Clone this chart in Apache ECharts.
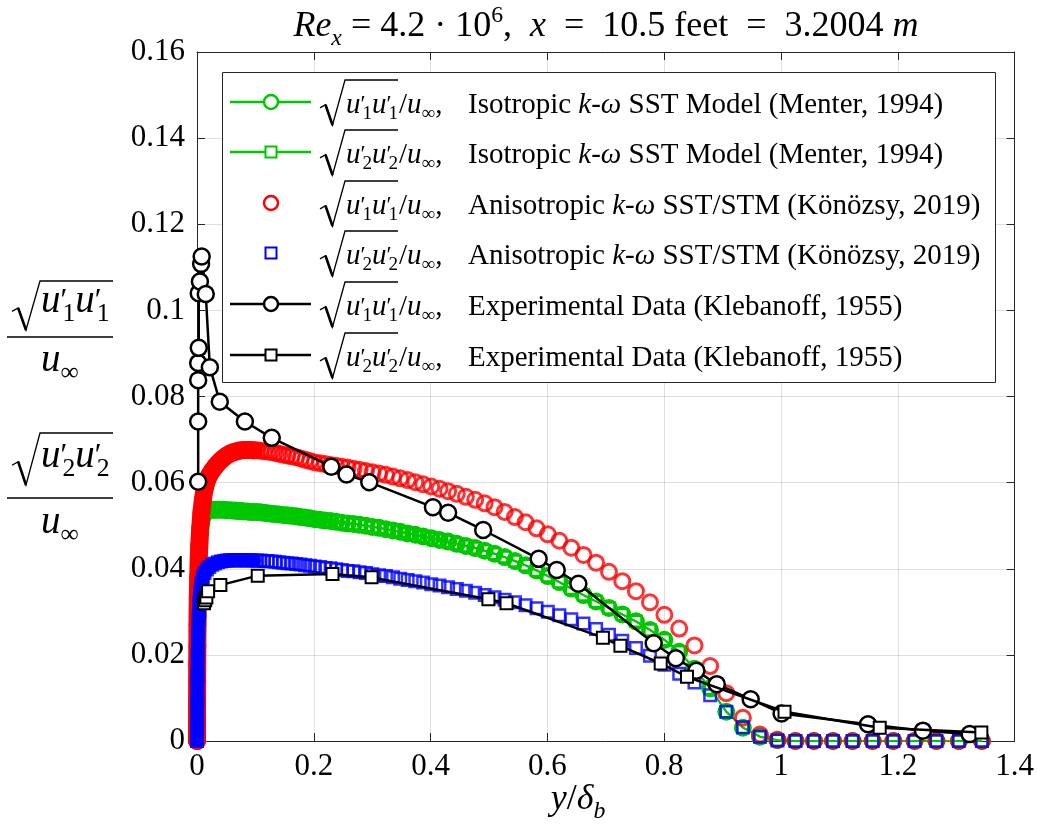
<!DOCTYPE html>
<html>
<head>
<meta charset="utf-8">
<script src="https://cdn.jsdelivr.net/npm/echarts@6/dist/echarts.min.js"></script>
<style>
  html, body { margin: 0; padding: 0; background: #ffffff; }
  #chart { width: 1037px; height: 838px; }
</style>
</head>
<body>
<div id="chart"></div>
<script>
// Wall-normal positions of the computational nodes, y/delta_b
const meshY = [0, 0.0001, 0.0004, 0.0008, 0.0013, 0.002, 0.003, 0.004, 0.0055, 0.0075, 0.01, 0.013, 0.017, 0.021, 0.026, 0.031, 0.036, 0.041, 0.046, 0.051, 0.056, 0.061, 0.066, 0.071, 0.076, 0.081, 0.0862, 0.0916, 0.0972,
  0.1029, 0.1088, 0.1148, 0.121, 0.1274, 0.134, 0.1408, 0.1477, 0.1548, 0.1621, 0.1697, 0.1774, 0.1854, 0.1936, 0.202, 0.2107, 0.2196, 0.2288, 0.2382, 0.2479, 0.2578, 0.268, 0.2785, 0.2893, 0.3004, 0.3118, 0.3235, 0.3356, 0.348, 0.3607, 0.3738, 0.3873, 0.4011, 0.4153, 0.4299, 0.4449, 0.4604, 0.4763, 0.4926, 0.5094, 0.5267, 0.5444, 0.5626, 0.5814, 0.6007, 0.6205, 0.6409, 0.6618, 0.6833, 0.7054, 0.7282, 0.7516, 0.7756, 0.8003, 0.8257, 0.8518, 0.8787, 0.9063, 0.9347, 0.9639, 0.9939, 1.0247, 1.0564, 1.089, 1.1225, 1.1569, 1.1923, 1.2287, 1.2661, 1.3045, 1.344];
// Number of near-wall nodes drawn as a continuous band
const nearWallCount = 29;

// Isotropic k-omega SST: both normal components are sqrt(2k/3)/u_inf, so one array serves both series
const isoRms = [0, 0.005, 0.014, 0.022, 0.029, 0.035, 0.041, 0.045, 0.0485, 0.0508, 0.0522, 0.053, 0.0534, 0.0536, 0.0537, 0.0537, 0.0537, 0.0537, 0.0537, 0.0536, 0.0536, 0.0535, 0.0535, 0.0534, 0.0534, 0.0533, 0.0533, 0.0532, 0.0532,
  0.0532, 0.0531, 0.053, 0.0529, 0.0528, 0.0527, 0.0526, 0.0525, 0.0524, 0.0523, 0.0522, 0.052, 0.0519, 0.0517, 0.0515, 0.0514, 0.0512, 0.0511, 0.0509, 0.0507, 0.0505, 0.0504, 0.0502, 0.05, 0.0497, 0.0495, 0.0492, 0.0489, 0.0486, 0.0482, 0.0479, 0.0475, 0.0471, 0.0467, 0.0463, 0.0458, 0.0453, 0.0448, 0.0442, 0.0435, 0.0427, 0.0418, 0.0408, 0.0396, 0.0383, 0.0369, 0.0354, 0.0339, 0.0324, 0.0309, 0.0294, 0.0278, 0.0258, 0.0235, 0.0207, 0.0168, 0.0122, 0.0068, 0.0031, 0.001, 0.0002, 0, 0, 0, 0, 0, 0, 0, 0, 0, 0];

// Anisotropic SST/STM, streamwise component
const anisoU1 = [0, 0.007, 0.018, 0.027, 0.033, 0.038, 0.0425, 0.0458, 0.0495, 0.053, 0.056, 0.0585, 0.0605, 0.0617, 0.0628, 0.0637, 0.0645, 0.0652, 0.0658, 0.0663, 0.0667, 0.067, 0.0672, 0.0674, 0.0675, 0.0676, 0.0676, 0.0676, 0.0675,
  0.0675, 0.0674, 0.0673, 0.0672, 0.0671, 0.0669, 0.0667, 0.0665, 0.0663, 0.0661, 0.0659, 0.0656, 0.0653, 0.065, 0.0647, 0.0645, 0.0643, 0.0641, 0.0639, 0.0637, 0.0635, 0.0632, 0.063, 0.0627, 0.0624, 0.0621, 0.0618, 0.0614, 0.061, 0.0606, 0.0601, 0.0596, 0.0591, 0.0586, 0.058, 0.0574, 0.0567, 0.056, 0.0552, 0.0543, 0.0532, 0.052, 0.0508, 0.0494, 0.048, 0.0465, 0.0449, 0.0432, 0.0414, 0.0393, 0.0371, 0.0348, 0.0322, 0.0293, 0.0261, 0.0222, 0.0174, 0.0111, 0.0054, 0.0015, 0.0003, 0, 0, 0, 0, 0, 0, 0, 0, 0, 0];

// Anisotropic SST/STM, wall-normal component
const anisoU2 = [0, 0.003, 0.009, 0.015, 0.02, 0.025, 0.029, 0.032, 0.0345, 0.0365, 0.038, 0.039, 0.0398, 0.0404, 0.0409, 0.0412, 0.0415, 0.0417, 0.0418, 0.0419, 0.042, 0.042, 0.042, 0.042, 0.042, 0.042, 0.042, 0.042, 0.0419,
  0.0419, 0.0419, 0.0418, 0.0418, 0.0417, 0.0416, 0.0415, 0.0414, 0.0413, 0.0412, 0.0411, 0.041, 0.0408, 0.0407, 0.0405, 0.0404, 0.0402, 0.0401, 0.0399, 0.0397, 0.0395, 0.0394, 0.0392, 0.039, 0.0387, 0.0385, 0.0383, 0.038, 0.0377, 0.0374, 0.0371, 0.0368, 0.0364, 0.0361, 0.0357, 0.0353, 0.0349, 0.0344, 0.0339, 0.0334, 0.0328, 0.0322, 0.0315, 0.0308, 0.03, 0.0292, 0.0283, 0.0273, 0.026, 0.0247, 0.0233, 0.0216, 0.0198, 0.0177, 0.0156, 0.0136, 0.0106, 0.0068, 0.0032, 0.001, 0.0001, 0, 0, 0, 0, 0, 0, 0, 0, 0, 0];

// Klebanoff (1955) measurements, streamwise component (in measurement order)
const expU1Y = [0.002, 0.002, 0.002, 0.002, 0.003, 0.003, 0.005, 0.007, 0.008, 0.015, 0.022, 0.039, 0.082, 0.128, 0.23, 0.256, 0.295, 0.404, 0.43, 0.49, 0.585, 0.616, 0.653, 0.782, 0.82, 0.855, 0.89, 0.948, 1.001, 1.149, 1.243, 1.323];
const expU1 = [0.0602, 0.0742, 0.0838, 0.0878, 0.0913, 0.104, 0.1067, 0.1108, 0.1125, 0.1038, 0.0868, 0.0788, 0.0742, 0.0704, 0.0637, 0.0619, 0.0601, 0.0543, 0.053, 0.049, 0.0423, 0.0397, 0.0365, 0.0227, 0.0192, 0.0163, 0.0132, 0.0097, 0.0064, 0.0039, 0.0024, 0.0016];

// Klebanoff (1955) measurements, wall-normal component
const expU2Y = [0.012, 0.014, 0.016, 0.019, 0.04, 0.104, 0.232, 0.299, 0.499, 0.53, 0.695, 0.725, 0.794, 0.839, 1.006, 1.169, 1.343];
const expU2 = [0.032, 0.0327, 0.0333, 0.0348, 0.0362, 0.0384, 0.0388, 0.038, 0.0329, 0.032, 0.024, 0.0221, 0.018, 0.0149, 0.0068, 0.0031, 0.002];

const xTickLabels = ['0', '0.2', '0.4', '0.6', '0.8', '1', '1.2', '1.4'];
const yTickLabels = ['0', '0.02', '0.04', '0.06', '0.08', '0.1', '0.12', '0.14', '0.16'];

const FONT = 'Liberation Serif';
const GREEN = '#00c800', RED = '#ff0000', BLUE = '#0000ff', INK = '#262626';
const NOFILL = 'rgba(0,0,0,0)';

function pairs(xs, ys) { return xs.map((x, i) => [x, ys[i]]); }

function rich(fs) {
  const base = { fontFamily: FONT, color: '#000' };
  return {
    i: Object.assign({ fontStyle: 'italic', fontSize: fs, lineHeight: fs * 1.3 }, base),
    r: Object.assign({ fontSize: fs, lineHeight: fs * 1.3 }, base),
    p: Object.assign({ fontSize: fs * 0.8, lineHeight: fs * 1.3, width: 2 }, base),
    b: Object.assign({ fontSize: fs * 0.66, lineHeight: fs * 0.66, verticalAlign: 'bottom' }, base),
    bi: Object.assign({ fontStyle: 'italic', fontSize: fs * 0.66, lineHeight: fs * 0.66, verticalAlign: 'bottom' }, base),
    t: Object.assign({ fontSize: fs * 0.66, lineHeight: fs * 0.66, verticalAlign: 'top' }, base)
  };
}

function textEl(x, y, text, fs, align) {
  return { type: 'text', x: x, y: y, z: 110,
    style: { text: text, rich: rich(fs), align: align || 'left', verticalAlign: 'middle' } };
}

// radical sign with overline, enclosing u'_k u'_k
function sqrtTerm(x0, yTop, yBot, w, len, textY, fs, k) {
  const H = yBot - yTop;
  return [
    { type: 'polyline', z: 110,
      shape: { points: [[x0, yTop + 0.62 * H], [x0 + 0.22 * w, yTop + 0.55 * H], [x0 + 0.5 * w, yBot], [x0 + w, yTop], [x0 + w + len, yTop]] },
      style: { stroke: '#000', fill: 'none', lineWidth: 1.3 } },
    { type: 'line', z: 110,
      shape: { x1: x0 + 0.22 * w, y1: yTop + 0.55 * H, x2: x0 + 0.5 * w, y2: yBot },
      style: { stroke: '#000', lineWidth: 2.6 } },
    textEl(x0 + w + 1, textY, '{i|u}{p|′}{b|' + k + '}{i|u}{p|′}{b|' + k + '}', fs)
  ];
}

function fraction(yTop, textY, barY, denY, k) {
  return sqrtTerm(12, yTop, textY + 24, 28, 73, textY - 4, 39, k).concat([
    { type: 'line', z: 110, shape: { x1: 7, y1: barY, x2: 113, y2: barY }, style: { stroke: '#000', lineWidth: 1.5 } },
    textEl(60, denY - 4, '{i|u}{b|∞}', 39, 'center')
  ]);
}

// legend
const legendRows = [
  { sym: 'circle', color: GREEN, fill: NOFILL, line: true, k: '1', desc: '{r|Isotropic }{i|k}{r|-}{i|ω}{r| SST Model (Menter, 1994)}' },
  { sym: 'square', color: GREEN, fill: NOFILL, line: true, k: '2', desc: '{r|Isotropic }{i|k}{r|-}{i|ω}{r| SST Model (Menter, 1994)}' },
  { sym: 'circle', color: RED, fill: NOFILL, line: false, k: '1', desc: '{r|Anisotropic }{i|k}{r|-}{i|ω}{r| SST/STM (Könözsy, 2019)}' },
  { sym: 'square', color: BLUE, fill: NOFILL, line: false, k: '2', desc: '{r|Anisotropic }{i|k}{r|-}{i|ω}{r| SST/STM (Könözsy, 2019)}' },
  { sym: 'circle', color: '#000', fill: '#fff', line: true, k: '1', desc: '{r|Experimental Data (Klebanoff, 1955)}' },
  { sym: 'square', color: '#000', fill: '#fff', line: true, k: '2', desc: '{r|Experimental Data (Klebanoff, 1955)}' }
];
const legendRowY = [102, 152, 203, 253, 304, 355];

const graphics = [
  { type: 'rect', z: 100, shape: { x: 222.5, y: 72.5, width: 773, height: 310 }, style: { fill: '#fff', stroke: INK, lineWidth: 1 } }
];
legendRows.forEach((row, i) => {
  const cy = legendRowY[i];
  if (row.line) {
    graphics.push({ type: 'line', z: 105, shape: { x1: 230, y1: cy, x2: 311, y2: cy }, style: { stroke: row.color, lineWidth: 2.5 } });
  }
  if (row.sym === 'circle') {
    graphics.push({ type: 'circle', z: 106, shape: { cx: 271, cy: cy, r: 7 }, style: { fill: row.fill === NOFILL ? '#fff' : row.fill, stroke: row.color, lineWidth: 2.5 } });
  } else {
    graphics.push({ type: 'rect', z: 106, shape: { x: 265.5, y: cy - 5.5, width: 11, height: 11 }, style: { fill: '#fff', stroke: row.color, lineWidth: 2 } });
  }
  sqrtTerm(320, cy - 22, cy + 23, 25, 53, cy + 3, 29, row.k).forEach(g => graphics.push(g));
  graphics.push(textEl(399, cy + 3, '{r|/}{i|u}{b|∞}{r|,}', 29));
  graphics.push(textEl(468, cy + 3, row.desc, 29));
});

// y-axis label: the two normalised rms fluctuations
fraction(281, 306, 337, 365, '1').forEach(g => graphics.push(g));
fraction(433, 461, 498, 527, '2').forEach(g => graphics.push(g));

// x-axis label
graphics.push(textEl(578, 800, '{i|y}{r|/}{i|δ}{bi|b}', 36, 'center'));

// title
graphics.push(textEl(606, 27, '{i|Re}{bi|x}{r| = 4.2 · 10}{t|6}{r|,  }{i|x}{r|  =  10.5 feet  =  3.2004 }{i|m}', 36, 'center'));

function band(ys, color, width, z) {
  return {
    type: 'line', z: z, data: pairs(meshY.slice(0, nearWallCount), ys.slice(0, nearWallCount)),
    symbol: 'none', clip: false, silent: true,
    lineStyle: { color: color, width: width, cap: 'round', join: 'round' }
  };
}

const axisCommon = {
  type: 'value',
  axisLine: { show: true, onZero: false, lineStyle: { color: INK, width: 1 } },
  axisTick: { show: true, inside: true, length: 8, lineStyle: { color: INK, width: 1 } }
};
const gridLine = { show: true, lineStyle: { color: 'rgba(38,38,38,0.15)', width: 1 } };

const chart = echarts.init(document.getElementById('chart'), null, { renderer: 'canvas' });
chart.setOption({
  animation: false,
  backgroundColor: '#ffffff',
  grid: { left: 197, right: 22, top: 52, bottom: 97 },
  xAxis: [
    Object.assign({}, axisCommon, {
      min: 0, max: 1.4, interval: 0.2, position: 'bottom',
      axisLabel: { margin: 10, color: '#000', fontFamily: FONT, fontSize: 31,
        formatter: v => xTickLabels[Math.round(v / 0.2)] },
      splitLine: gridLine
    }),
    Object.assign({}, axisCommon, {
      min: 0, max: 1.4, interval: 0.2, position: 'top',
      axisLabel: { show: false }, splitLine: { show: false }
    })
  ],
  yAxis: [
    Object.assign({}, axisCommon, {
      min: 0, max: 0.16, interval: 0.02, position: 'left',
      axisLabel: { margin: 12, color: '#000', fontFamily: FONT, fontSize: 31,
        formatter: v => yTickLabels[Math.round(v / 0.02)] },
      splitLine: gridLine
    }),
    Object.assign({}, axisCommon, {
      min: 0, max: 0.16, interval: 0.02, position: 'right',
      axisLabel: { show: false }, splitLine: { show: false }
    })
  ],
  series: [
    band(isoRms, GREEN, 17, 2),
    {
      type: 'line', name: 'iso-u1', z: 2, data: pairs(meshY, isoRms), clip: false, showAllSymbol: true,
      symbol: 'circle', symbolSize: 15,
      itemStyle: { color: NOFILL, borderColor: GREEN, borderWidth: 3 },
      lineStyle: { color: GREEN, width: 2 }
    },
    {
      type: 'line', name: 'iso-u2', z: 2, data: pairs(meshY, isoRms), clip: false, showAllSymbol: true,
      symbol: 'rect', symbolSize: 11,
      itemStyle: { color: NOFILL, borderColor: GREEN, borderWidth: 2.5 },
      lineStyle: { color: GREEN, width: 2 }
    },
    band(anisoU1, RED, 18, 3),
    {
      type: 'scatter', name: 'aniso-u1', z: 3, data: pairs(meshY, anisoU1), clip: false,
      symbol: 'circle', symbolSize: 15,
      itemStyle: { color: NOFILL, borderColor: RED, borderWidth: 3 }
    },
    band(anisoU2, BLUE, 14, 4),
    {
      type: 'scatter', name: 'aniso-u2', z: 4, data: pairs(meshY, anisoU2), clip: false,
      symbol: 'rect', symbolSize: 11.5,
      itemStyle: { color: NOFILL, borderColor: BLUE, borderWidth: 2.5 }
    },
    {
      type: 'line', name: 'exp-u1', z: 5, data: pairs(expU1Y, expU1), clip: false, showAllSymbol: true,
      symbol: 'circle', symbolSize: 16,
      itemStyle: { color: '#fff', borderColor: '#000', borderWidth: 2.5 },
      lineStyle: { color: '#000', width: 2.5 }
    },
    {
      type: 'line', name: 'exp-u2', z: 6, data: pairs(expU2Y, expU2), clip: false, showAllSymbol: true,
      symbol: 'rect', symbolSize: 12,
      itemStyle: { color: '#fff', borderColor: '#000', borderWidth: 2 },
      lineStyle: { color: '#000', width: 2.5 }
    }
  ],
  graphic: graphics
});
</script>
</body>
</html>
